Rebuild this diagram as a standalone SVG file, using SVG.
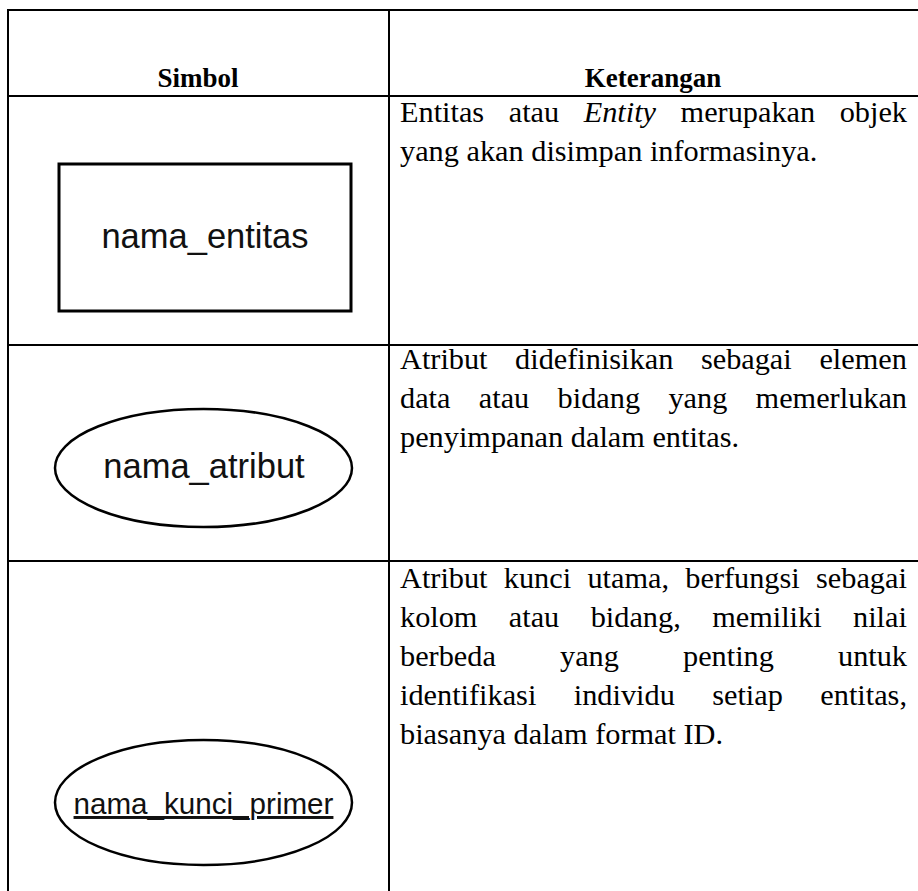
<svg xmlns="http://www.w3.org/2000/svg" width="918" height="891" viewBox="0 0 918 891">
<style>
.grid{stroke:#000;stroke-width:2;fill:none}
.hd{font-family:"Liberation Serif","Times New Roman",serif;font-weight:bold;font-size:27px;fill:#000;text-anchor:middle}
.tx{font-family:"Liberation Serif","Times New Roman",serif;font-size:30.3px;fill:#000}
.sym{font-family:"Liberation Sans",Arial,sans-serif;fill:#111;text-anchor:middle}
.shape{fill:#fff;stroke:#000}
</style>
<rect x="0" y="0" width="918" height="891" fill="#fff"/>
<g id="table-grid">
<line class="grid" x1="8" y1="10" x2="918" y2="10"/>
<line class="grid" x1="8" y1="96" x2="918" y2="96"/>
<line class="grid" x1="8" y1="345" x2="918" y2="345"/>
<line class="grid" x1="8" y1="561" x2="918" y2="561"/>
<line class="grid" x1="8" y1="9" x2="8" y2="891"/>
<line class="grid" x1="389" y1="9" x2="389" y2="891"/>
</g>
<g id="header">
<text class="hd" x="198" y="87">Simbol</text>
<text class="hd" x="653" y="87">Keterangan</text>
</g>
<g id="entitas">
<rect class="shape" x="59" y="164" width="292" height="147" stroke-width="3"/>
<text class="sym" x="205" y="248" font-size="34.5">nama_entitas</text>
</g>
<g id="entitas-desc" class="tx">
<text class="tx" y="122"><tspan x="400">Entitas</tspan><tspan x="508.7">atau</tspan><tspan x="583.7" font-style="italic">Entity</tspan><tspan x="680.6">merupakan</tspan><tspan x="839.7">objek</tspan></text>
<text class="tx" x="400" y="161">yang akan disimpan informasinya.</text>
</g>
<g id="atribut">
<ellipse class="shape" cx="203.5" cy="468" rx="148.5" ry="59" stroke-width="2.5"/>
<text class="sym" x="204" y="478" font-size="34.5">nama_atribut</text>
</g>
<g id="atribut-desc">
<text class="tx" y="369"><tspan x="400">Atribut</tspan><tspan x="515.1">didefinisikan</tspan><tspan x="700.9">sebagai</tspan><tspan x="819.4">elemen</tspan></text>
<text class="tx" y="408"><tspan x="400">data</tspan><tspan x="478.8">atau</tspan><tspan x="557.6">bidang</tspan><tspan x="668.4">yang</tspan><tspan x="755.6">memerlukan</tspan></text>
<text class="tx" x="400" y="447">penyimpanan dalam entitas.</text>
</g>
<g id="kunci-primer">
<ellipse class="shape" cx="203.5" cy="802.5" rx="148.5" ry="62.5" stroke-width="2.5"/>
<text class="sym" x="203.5" y="814" font-size="29.6" text-decoration="underline">nama_kunci_primer</text>
</g>
<g id="kunci-primer-desc">
<text class="tx" y="588"><tspan x="400">Atribut</tspan><tspan x="503.8">kunci</tspan><tspan x="587.4">utama,</tspan><tspan x="685.3">berfungsi</tspan><tspan x="816">sebagai</tspan></text>
<text class="tx" y="627"><tspan x="400">kolom</tspan><tspan x="508.8">atau</tspan><tspan x="590.7">bidang,</tspan><tspan x="712.2">memiliki</tspan><tspan x="853">nilai</tspan></text>
<text class="tx" y="666"><tspan x="400">berbeda</tspan><tspan x="560">yang</tspan><tspan x="683">penting</tspan><tspan x="838">untuk</tspan></text>
<text class="tx" y="705"><tspan x="400">identifikasi</tspan><tspan x="573.8">individu</tspan><tspan x="712.2">setiap</tspan><tspan x="820.3">entitas,</tspan></text>
<text class="tx" x="400" y="744">biasanya dalam format ID.</text>
</g>
</svg>
